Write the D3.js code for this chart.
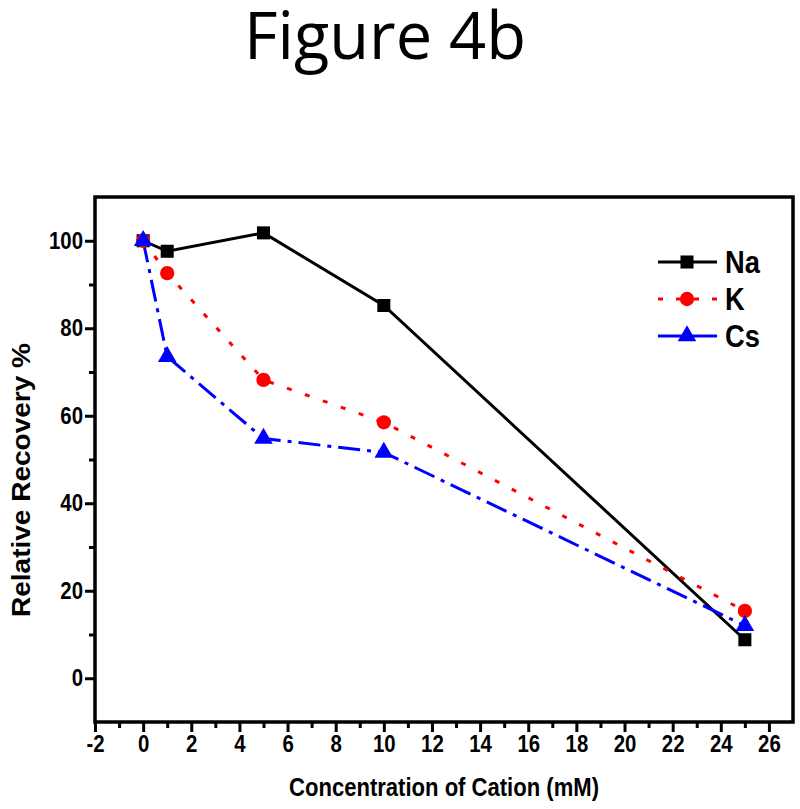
<!DOCTYPE html>
<html><head><meta charset="utf-8">
<script src="https://cdn.jsdelivr.net/npm/d3@7"></script>
<style>body{margin:0;background:#fff}</style>
</head><body>
<svg id="c" width="800" height="809"></svg>
<script>
const concentrations = [0, 1, 5, 10, 25];
const naValues = [100, 97.6, 101.8, 85.2, 8.8];
const kValues = [100, 92.6, 68.2, 58.5, 15.4];
const csValues = [100, 73.5, 54.8, 51.6, 12.0];
const seriesNames = ["Na", "K", "Cs"];
const xTicks = d3.range(-2, 27, 2);
const yTicks = [0, 20, 40, 60, 80, 100];

const svg = d3.select("#c");
const L = 95, R = 793, T = 197, B = 722;
const x = d3.scaleLinear().domain([-2, 27]).range([L, R]);
const y = d3.scaleLinear().domain([-10, 110]).range([B, T]);
const bf = "Liberation Sans, Arial, sans-serif";

function condense(sel, f) {
  sel.each(function() {
    const w = this.getComputedTextLength();
    d3.select(this).attr("textLength", w * f).attr("lengthAdjust", "spacingAndGlyphs");
  });
}

svg.append("text").attr("x", 385).attr("y", 59).attr("text-anchor", "middle")
  .attr("font-family", "Open Sans, sans-serif").attr("font-size", 65).text("Figure 4b");

// axes
svg.append("g").attr("transform", `translate(0,${B})`)
  .call(d3.axisBottom(x).tickValues(xTicks).tickSize(10).tickPadding(3).tickFormat(d => String(d)));
svg.append("g").attr("transform", `translate(0,${B})`)
  .call(d3.axisBottom(x).tickValues(d3.range(-1, 27, 2)).tickSize(6).tickFormat(""));
svg.append("g").attr("transform", `translate(${L},0)`)
  .call(d3.axisLeft(y).tickValues(yTicks).tickSize(10).tickPadding(2).tickFormat(d3.format("d")));
svg.append("g").attr("transform", `translate(${L},0)`)
  .call(d3.axisLeft(y).tickValues([10, 30, 50, 70, 90]).tickSize(6).tickFormat(""));
svg.selectAll(".tick line").attr("stroke", "#000").attr("stroke-width", 3);
svg.selectAll(".domain").remove();
svg.selectAll(".tick text").attr("font-family", bf).attr("font-weight", "bold").attr("font-size", 24).attr("fill", "#000")
  .call(condense, 0.85);
svg.append("rect").attr("x", L).attr("y", T).attr("width", R - L).attr("height", B - T)
  .attr("fill", "none").attr("stroke", "#000").attr("stroke-width", 3.5);

svg.append("text").attr("x", 444).attr("y", 796).attr("text-anchor", "middle")
  .attr("font-family", bf).attr("font-weight", "bold").attr("font-size", 25)
  .attr("textLength", 310).attr("lengthAdjust", "spacingAndGlyphs").text("Concentration of Cation (mM)");
svg.append("text").attr("transform", "translate(30,480) rotate(-90)").attr("text-anchor", "middle")
  .attr("font-family", bf).attr("font-weight", "bold").attr("font-size", 25)
  .attr("textLength", 274).attr("lengthAdjust", "spacingAndGlyphs").text("Relative Recovery %");

const styles = [
  {color: "#000", dash: null, sym: d3.symbolSquare, size: 170, vals: naValues},
  {color: "#ff0000", dash: "5,14", sym: d3.symbolCircle, size: 160, vals: kValues},
  {color: "#0000ff", dash: "22,7,4,7", sym: d3.symbolTriangle, size: 150, vals: csValues}
];
const line = d3.line().x(d => x(d[0])).y(d => y(d[1]));
styles.forEach(s => {
  const pts = concentrations.map((c, i) => [c, s.vals[i]]);
  svg.append("path").datum(pts).attr("d", line).attr("fill", "none")
    .attr("stroke", s.color).attr("stroke-width", 3).attr("stroke-dasharray", s.dash);
});
styles.forEach(s => {
  concentrations.forEach((c, i) => {
    svg.append("path").attr("d", d3.symbol(s.sym, s.size)())
      .attr("transform", `translate(${x(c)},${y(s.vals[i])})`).attr("fill", s.color);
  });
});
// legend
const legendDash = [null, "5,13", null];
styles.forEach((s, i) => {
  const ly = 262 + i * 37;
  svg.append("line").attr("x1", 658).attr("x2", 717).attr("y1", ly).attr("y2", ly)
    .attr("stroke", s.color).attr("stroke-width", 3).attr("stroke-dasharray", legendDash[i]);
  svg.append("path").attr("d", d3.symbol(s.sym, s.size)()).attr("transform", `translate(687,${ly})`).attr("fill", s.color);
  svg.append("text").attr("x", 725).attr("y", ly + 11).attr("font-family", bf).attr("font-weight", "bold")
    .attr("font-size", 31).text(seriesNames[i]).call(condense, 0.88);
});
</script>
</body></html>
